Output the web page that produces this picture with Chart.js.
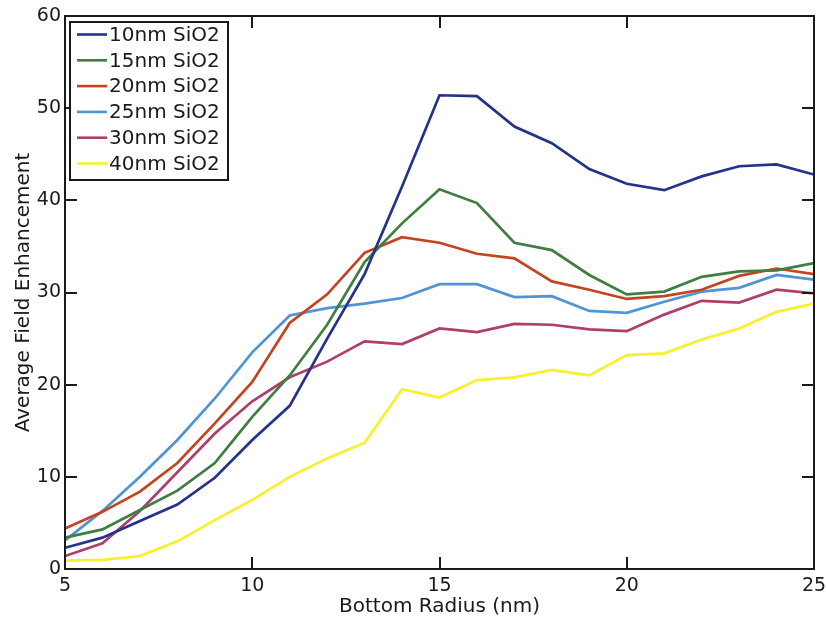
<!DOCTYPE html>
<html>
<head>
<meta charset="utf-8">
<script src="https://cdn.jsdelivr.net/npm/chart.js@4/dist/chart.umd.min.js"></script>
<style>
  html, body { margin: 0; padding: 0; background: #fff; }
  #wrap { width: 826px; height: 622px; }
</style>
</head>
<body>
<div id="wrap"><canvas id="c" width="826" height="622"></canvas></div>
<script>
// Bottom radius (nm)
const radius = [5, 6, 7, 8, 9, 10, 11, 12, 13, 14, 15, 16, 17, 18, 19, 20, 21, 22, 23, 24, 25];

// Average field enhancement for each SiO2 spacer thickness
const sio2_10nm = [2.3, 3.4, 5.2, 7.0, 9.9, 14.0, 17.7, 25.0, 32.0, 41.5, 51.4, 51.3, 48.0, 46.2, 43.4, 41.8, 41.1, 42.6, 43.7, 43.9, 42.8];
const sio2_15nm = [3.4, 4.3, 6.4, 8.5, 11.5, 16.5, 21.0, 26.5, 33.3, 37.5, 41.2, 39.7, 35.4, 34.6, 31.9, 29.8, 30.1, 31.7, 32.3, 32.4, 33.2];
const sio2_20nm = [4.4, 6.2, 8.4, 11.5, 15.8, 20.3, 26.7, 29.8, 34.3, 36.0, 35.4, 34.2, 33.7, 31.2, 30.3, 29.3, 29.6, 30.3, 31.8, 32.6, 32.0];
const sio2_25nm = [3.1, 6.3, 10.0, 14.0, 18.5, 23.5, 27.5, 28.3, 28.8, 29.4, 30.9, 30.9, 29.5, 29.6, 28.0, 27.8, 29.0, 30.1, 30.5, 31.9, 31.4];
const sio2_30nm = [1.4, 2.8, 6.3, 10.5, 14.7, 18.2, 20.8, 22.5, 24.7, 24.4, 26.1, 25.7, 26.6, 26.5, 26.0, 25.8, 27.6, 29.1, 28.9, 30.3, 29.9];
const sio2_40nm = [0.9, 1.0, 1.4, 3.0, 5.3, 7.5, 10.0, 12.0, 13.7, 19.5, 18.6, 20.5, 20.8, 21.6, 21.0, 23.2, 23.4, 24.9, 26.1, 27.9, 28.8];

const seriesLabels = ['10nm SiO2', '15nm SiO2', '20nm SiO2', '25nm SiO2', '30nm SiO2', '40nm SiO2'];
const seriesValues = [sio2_10nm, sio2_15nm, sio2_20nm, sio2_25nm, sio2_30nm, sio2_40nm];
const seriesColors = ['#25328c', '#3e7e40', '#c5441f', '#4f94d4', '#b03e6c', '#f7f02c'];

const xTicks = [5, 10, 15, 20, 25];
const yTicks = [0, 10, 20, 30, 40, 50, 60];

const FONT = "'DejaVu Sans', Verdana, sans-serif";
const INK = '#1a1a1a';

const datasets = seriesValues.map((vals, i) => ({
  label: seriesLabels[i],
  data: radius.map((r, j) => ({ x: r, y: vals[j] })),
  borderColor: seriesColors[i],
  backgroundColor: seriesColors[i],
  borderWidth: 2.7,
  pointRadius: 0,
  tension: 0,
  fill: false
}));

// Box frame with inward tick marks on all four sides
const framePlugin = {
  id: 'frame',
  afterDatasetsDraw(chart) {
    const { ctx, chartArea: a, scales: { x, y } } = chart;
    ctx.save();
    ctx.strokeStyle = INK;
    ctx.lineWidth = 2;
    ctx.strokeRect(a.left, a.top, a.right - a.left, a.bottom - a.top);
    const len = 12;
    ctx.beginPath();
    xTicks.forEach(v => {
      const px = Math.round(x.getPixelForValue(v));
      ctx.moveTo(px, a.bottom); ctx.lineTo(px, a.bottom - len);
      ctx.moveTo(px, a.top); ctx.lineTo(px, a.top + len);
    });
    yTicks.forEach(v => {
      const py = Math.round(y.getPixelForValue(v));
      ctx.moveTo(a.left, py); ctx.lineTo(a.left + len, py);
      ctx.moveTo(a.right, py); ctx.lineTo(a.right - len, py);
    });
    ctx.stroke();
    ctx.restore();
  }
};

// Boxed legend in the upper-left corner of the plot
const legendBoxPlugin = {
  id: 'legendBox',
  afterDraw(chart) {
    const { ctx, chartArea: a } = chart;
    const bx = a.left + 5, by = a.top + 6, bw = 158, bh = 158;
    const rowH = 25.8, firstRow = by + 12.5;
    ctx.save();
    ctx.fillStyle = '#fff';
    ctx.fillRect(bx, by, bw, bh);
    ctx.strokeStyle = INK;
    ctx.lineWidth = 2;
    ctx.strokeRect(bx, by, bw, bh);
    ctx.font = '20px ' + FONT;
    ctx.textBaseline = 'middle';
    ctx.textAlign = 'left';
    chart.data.datasets.forEach((ds, i) => {
      const cy = firstRow + i * rowH;
      ctx.strokeStyle = ds.borderColor;
      ctx.lineWidth = 2.6;
      ctx.beginPath();
      ctx.moveTo(bx + 7, cy);
      ctx.lineTo(bx + 37, cy);
      ctx.stroke();
      ctx.fillStyle = INK;
      ctx.fillText(ds.label, bx + 39, cy + 1);
    });
    ctx.restore();
  }
};

new Chart(document.getElementById('c'), {
  type: 'line',
  data: { datasets },
  plugins: [framePlugin, legendBoxPlugin],
  options: {
    responsive: false,
    animation: false,
    devicePixelRatio: 1,
    layout: { padding: { left: 0, top: 16, right: 0, bottom: 0 } },
    plugins: { legend: { display: false }, tooltip: { enabled: false } },
    scales: {
      x: {
        type: 'linear',
        min: 5, max: 25,
        afterFit(s) { s.height = 53; s.paddingRight = 12; },
        afterBuildTicks(s) { s.ticks = xTicks.map(v => ({ value: v })); },
        grid: { display: false, drawTicks: false },
        border: { display: false },
        ticks: { font: { family: FONT, size: 19 }, color: INK, padding: 6, maxRotation: 0 },
        title: {
          display: true, text: 'Bottom Radius (nm)',
          font: { family: FONT, size: 20 }, color: INK,
          padding: { top: 0, bottom: 3 }
        }
      },
      y: {
        type: 'linear',
        min: 0, max: 60,
        afterFit(s) { s.width = 65; },
        afterBuildTicks(s) { s.ticks = yTicks.map(v => ({ value: v })); },
        grid: { display: false, drawTicks: false },
        border: { display: false },
        ticks: { font: { family: FONT, size: 19 }, color: INK, padding: 4 },
        title: {
          display: true, text: 'Average Field Enhancement',
          font: { family: FONT, size: 20 }, color: INK,
          padding: { top: 12, bottom: 0 }
        }
      }
    }
  }
});
</script>
</body>
</html>
